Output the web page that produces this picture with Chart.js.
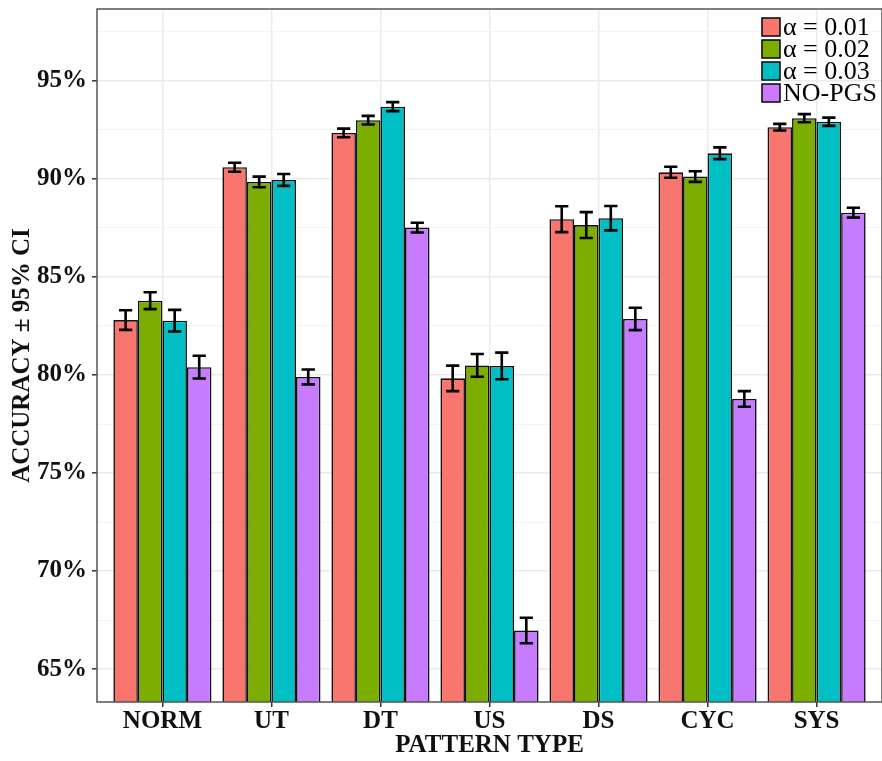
<!DOCTYPE html>
<html>
<head>
<meta charset="utf-8">
<script src="https://cdn.jsdelivr.net/npm/chart.js@4.4.1/dist/chart.umd.min.js"></script>
<style>
html,body{margin:0;padding:0;background:#fff;}
#wrap{width:882px;height:761px;position:relative;}
</style>
</head>
<body>
<div id="wrap"><canvas id="c"></canvas></div>
<script>
const categories = ["NORM", "UT", "DT", "US", "DS", "CYC", "SYS"];
const seriesLabels = ["\u03b1 = 0.01", "\u03b1 = 0.02", "\u03b1 = 0.03", "NO-PGS"];
const alpha001 = [82.80, 90.60, 92.35, 79.83, 87.95, 90.34, 92.64];
const alpha002 = [83.79, 89.85, 93.00, 80.49, 87.65, 90.12, 93.10];
const alpha003 = [82.77, 89.95, 93.69, 80.46, 88.00, 91.31, 92.92];
const noPgs    = [80.40, 79.90, 87.52, 66.97, 82.86, 78.78, 88.28];
const ci001 = [0.50, 0.23, 0.22, 0.65, 0.66, 0.28, 0.17];
const ci002 = [0.43, 0.27, 0.22, 0.58, 0.66, 0.27, 0.21];
const ci003 = [0.55, 0.30, 0.23, 0.68, 0.62, 0.30, 0.21];
const ciNo  = [0.58, 0.38, 0.25, 0.65, 0.57, 0.40, 0.25];
const yTickValues = [65, 67.5, 70, 72.5, 75, 77.5, 80, 82.5, 85, 87.5, 90, 92.5, 95, 97.5];
const colors = ["#F8766D", "#7CAE00", "#00BFC4", "#C77CFF"];

const values = [alpha001, alpha002, alpha003, noPgs];
const cis = [ci001, ci002, ci003, ciNo];

const datasets = values.map((arr, k) => ({
  label: seriesLabels[k],
  data: arr.map((v, i) => ({x: i, y: v})),
  ci: cis[k],
  backgroundColor: colors[k],
  borderColor: "#111",
  borderWidth: 1.6,
  borderSkipped: "bottom",
  categoryPercentage: 0.9,
  barPercentage: 1.0
}));

const SERIF = "'Liberation Serif', 'Times New Roman', serif";

const errorBars = {
  id: "errorBars",
  afterDatasetsDraw(chart) {
    const ctx = chart.ctx;
    const ys = chart.scales.y;
    ctx.save();
    ctx.strokeStyle = "#000";
    ctx.lineWidth = 2.6;
    ctx.lineCap = "butt";
    chart.data.datasets.forEach((ds, k) => {
      const meta = chart.getDatasetMeta(k);
      meta.data.forEach((el, i) => {
        const v = ds.data[i].y, e = ds.ci[i];
        const y1 = ys.getPixelForValue(v + e), y2 = ys.getPixelForValue(v - e);
        const hw = el.width * 0.27;
        ctx.beginPath();
        ctx.moveTo(el.x, y1); ctx.lineTo(el.x, y2);
        ctx.moveTo(el.x - hw, y1); ctx.lineTo(el.x + hw, y1);
        ctx.moveTo(el.x - hw, y2); ctx.lineTo(el.x + hw, y2);
        ctx.stroke();
      });
    });
    ctx.restore();
  }
};

const frame = {
  id: "frame",
  afterDraw(chart) {
    const a = chart.chartArea, ctx = chart.ctx;
    ctx.save();
    ctx.strokeStyle = "#555";
    ctx.lineWidth = 1.5;
    ctx.strokeRect(a.left, a.top, a.right - a.left, a.bottom - a.top);
    ctx.restore();
  }
};

const legendBox = {
  id: "legendBox",
  afterDraw(chart) {
    const ctx = chart.ctx;
    ctx.save();
    ctx.font = "26px " + SERIF;
    ctx.textBaseline = "middle";
    ctx.textAlign = "left";
    const x0 = 762, y0 = 27, step = 22, sz = 18;
    chart.data.datasets.forEach((ds, k) => {
      const cy = y0 + k * step;
      ctx.fillStyle = ds.backgroundColor;
      ctx.fillRect(x0, cy - sz / 2, sz, sz);
      ctx.strokeStyle = "#111";
      ctx.lineWidth = 1.6;
      ctx.strokeRect(x0, cy - sz / 2, sz, sz);
      ctx.fillStyle = "#000";
      ctx.fillText(ds.label, x0 + sz + 3, cy + 1);
    });
    ctx.restore();
  }
};

new Chart(document.getElementById("c"), {
  type: "bar",
  data: {datasets},
  plugins: [errorBars, frame, legendBox],
  options: {
    responsive: true,
    maintainAspectRatio: false,
    animation: false,
    layout: {padding: {top: 9, right: 0, left: 0, bottom: 0}},
    plugins: {legend: {display: false}, tooltip: {enabled: false}},
    scales: {
      x: {
        type: "linear",
        min: -0.6,
        max: 6.6,
        offset: false,
        afterBuildTicks(s) { s.ticks = categories.map((c, i) => ({value: i})); },
        afterFit(s) { s.height = 59; s.paddingLeft = 0; s.paddingRight = 0; },
        ticks: {
          callback: (v) => categories[v] !== undefined ? categories[v] : "",
          color: "#111",
          font: {family: SERIF, size: 25, weight: "bold"},
          padding: 0,
          maxRotation: 0,
          autoSkip: false
        },
        grid: {offset: false, color: "#EBEBEB", lineWidth: 1.5, tickLength: 5, tickColor: "#333", tickWidth: 1.5},
        border: {display: false},
        title: {display: true, text: "PATTERN TYPE", color: "#111",
          font: {family: SERIF, size: 25, weight: "bold"}, padding: {top: 0, bottom: 0}}
      },
      y: {
        type: "linear",
        min: 63.32,
        max: 98.67,
        afterBuildTicks(s) { s.ticks = yTickValues.map(v => ({value: v})); },
        afterFit(s) { s.width = 97; s.paddingTop = 0; s.paddingBottom = 0; },
        ticks: {
          callback: (v) => (v % 5 === 0 ? v + "%" : ""),
          color: "#111",
          font: {family: SERIF, size: 25, weight: "bold"},
          padding: 5,
          autoSkip: false
        },
        grid: {
          color: (c) => (c.tick && c.tick.value % 5 === 0 ? "#EBEBEB" : "#F4F4F4"),
          lineWidth: (c) => (c.tick && c.tick.value % 5 === 0 ? 1.6 : 1),
          tickLength: 5,
          tickColor: (c) => (c.tick && c.tick.value % 5 === 0 ? "#333" : "rgba(0,0,0,0)"),
          tickWidth: 1.5
        },
        border: {display: false},
        title: {display: true, text: "ACCURACY \u00b1 95% CI", color: "#111",
          font: {family: SERIF, size: 25, weight: "bold"}, padding: {top: 8, bottom: 0}}
      }
    }
  }
});
</script>
</body>
</html>
